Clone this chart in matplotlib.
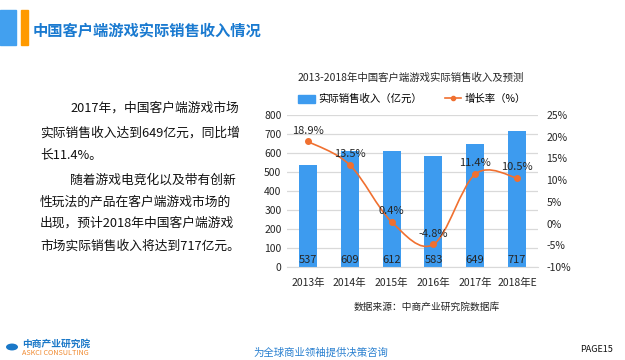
import matplotlib
matplotlib.use('Agg')
import matplotlib.pyplot as plt
from matplotlib.path import Path
from matplotlib.patches import PathPatch, Rectangle, Circle
from matplotlib.lines import Line2D

plt.rcParams['font.family'] = ['Noto Sans CJK SC', 'DejaVu Sans']

# 数据
years = ['2013年', '2014年', '2015年', '2016年', '2017年', '2018年E']
revenue = [537, 609, 612, 583, 649, 717]
growth = [18.9, 13.5, 0.4, -4.8, 11.4, 10.5]
left_ticks = [0, 100, 200, 300, 400, 500, 600, 700, 800]
right_ticks = [-10, -5, 0, 5, 10, 15, 20, 25]

bar_color = '#3d9bef'
line_color = '#f07030'
text_color = '#262626'

fig = plt.figure(figsize=(6.25, 3.6), dpi=100)

# 页面标题及装饰
fig.patches.append(Rectangle((0, 1 - 45 / 360), 16 / 625, 35 / 360, transform=fig.transFigure,
                             color='#42a0ef', zorder=0))
fig.patches.append(Rectangle((21 / 625, 1 - 45 / 360), 7 / 625, 35 / 360, transform=fig.transFigure,
                             color='#ff9a00', zorder=0))
fig.text(33 / 625, 1 - 31 / 360, '中国客户端游戏实际销售收入情况', fontsize=11, color='#1a7ad0',
         fontweight='bold', va='center', ha='left')

# 左侧说明文字
lines = [
    (70, 108, '2017年，中国客户端游戏市场'),
    (40, 133, '实际销售收入达到649亿元，同比增'),
    (40, 155, '长11.4%。'),
    (70, 180, '随着游戏电竞化以及带有创新'),
    (40, 202, '性玩法的产品在客户端游戏市场的'),
    (40, 223, '出现，预计2018年中国客户端游戏'),
    (40, 246, '市场实际销售收入将达到717亿元。'),
]
for x, y, s in lines:
    fig.text(x / 625, 1 - y / 360, s, fontsize=9.2, color='#111111', va='center', ha='left')

# 图表
ax = fig.add_axes([287 / 625, 93 / 360, 251 / 625, 152 / 360])
xs = list(range(len(years)))
ax.bar(xs, revenue, width=0.43, color=bar_color, zorder=2)
for x, v in zip(xs, revenue):
    ax.text(x, 12, str(v), ha='center', va='bottom', fontsize=8, color=text_color, zorder=5)
ax.set_ylim(0, 800)
ax.set_xlim(-0.5, len(years) - 0.5)
ax.set_yticks(left_ticks)
ax.set_xticks(xs)
ax.set_xticklabels(years)
ax.yaxis.grid(True, color='#d9d9d9', linewidth=0.9, zorder=0)
ax.set_axisbelow(True)
for sp in ax.spines.values():
    sp.set_visible(False)
ax.spines['bottom'].set_visible(True)
ax.spines['bottom'].set_color('#d9d9d9')
ax.tick_params(axis='both', length=0, labelsize=7.5, colors=text_color)
ax.tick_params(axis='x', pad=8)
ax.tick_params(axis='y', pad=4)

ax2 = ax.twinx()
ax2.set_ylim(-10, 25)
ax2.set_yticks(right_ticks)
ax2.set_yticklabels([f'{t}%' for t in right_ticks])
for sp in ax2.spines.values():
    sp.set_visible(False)
ax2.tick_params(axis='y', length=0, labelsize=7.5, colors=text_color, pad=6)

# 平滑曲线 (Catmull-Rom -> Bezier)
pts = list(zip(xs, growth))
verts = [pts[0]]
codes = [Path.MOVETO]
n = len(pts)
for i in range(n - 1):
    p0 = pts[i - 1] if i > 0 else pts[i]
    p1 = pts[i]
    p2 = pts[i + 1]
    p3 = pts[i + 2] if i + 2 < n else pts[i + 1]
    c1 = (p1[0] + (p2[0] - p0[0]) / 6, p1[1] + (p2[1] - p0[1]) / 6)
    c2 = (p2[0] - (p3[0] - p1[0]) / 6, p2[1] - (p3[1] - p1[1]) / 6)
    verts += [c1, c2, p2]
    codes += [Path.CURVE4] * 3
ax2.add_patch(PathPatch(Path(verts, codes), facecolor='none', edgecolor=line_color, linewidth=1.2, zorder=3))
ax2.plot(xs, growth, linestyle='none', marker='o', markersize=4, color=line_color, zorder=4)
for x, g in zip(xs, growth):
    ax2.text(x, g + 1.3, f'{g}%', ha='center', va='bottom', fontsize=8, color=text_color, zorder=5)

# 图表标题与图例
fig.text(411 / 625, 1 - 78 / 360, '2013-2018年中国客户端游戏实际销售收入及预测', fontsize=7.5,
         color=text_color, ha='center', va='center')
handles = [Rectangle((0, 0), 1, 1, color=bar_color),
           Line2D([0], [0], color=line_color, marker='o', markersize=3, linewidth=1.2)]
fig.legend(handles, ['实际销售收入（亿元）', '增长率（%）'], loc='center',
           bbox_to_anchor=(412 / 625, 1 - 99 / 360), ncol=2, frameon=False, fontsize=7.5,
           handlelength=1.6, handleheight=0.8, columnspacing=2.2, handletextpad=0.3)

# 数据来源
fig.text(354 / 625, 1 - 307 / 360, '数据来源：中商产业研究院数据库', fontsize=7, color=text_color,
         ha='left', va='center')

# 页脚
fig.patches.append(Circle((12 / 625, 1 - 347 / 360), 6 / 625, transform=fig.transFigure,
                          facecolor='#1a78c8', edgecolor='none'))
fig.text(22 / 625, 1 - 344 / 360, '中商产业研究院', fontsize=7, color='#1a78c8', fontweight='bold',
         ha='left', va='center')
fig.text(22 / 625, 1 - 353 / 360, 'ASKCI CONSULTING', fontsize=5.2, color='#f08a30',
         ha='left', va='center')
fig.text(321 / 625, 1 - 353 / 360, '为全球商业领袖提供决策咨询', fontsize=7.5, color='#2a80d0',
         style='italic', ha='center', va='center')
fig.text(597 / 625, 1 - 350 / 360, 'PAGE15', fontsize=6.5, color='#111111', ha='center', va='center')

fig.savefig('out.png', dpi=100)
